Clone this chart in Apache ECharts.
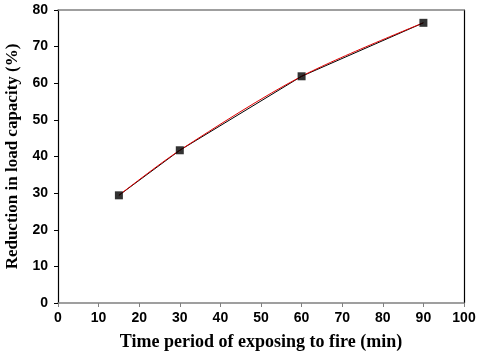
<!DOCTYPE html>
<html>
<head>
<meta charset="utf-8">
<script src="https://cdn.jsdelivr.net/npm/echarts@6/dist/echarts.min.js"></script>
<style>
  html, body { margin: 0; padding: 0; background: #fff; }
  #chart { width: 480px; height: 355px; }
</style>
</head>
<body>
<div id="chart"></div>
<script>
// time of exposure (min) and measured reduction (%)
const timeMin = [15, 30, 60, 90];
const reduction = [29.4, 41.7, 61.9, 76.5];
const xTicks = [0, 100, 10];
const yTicks = [0, 80, 10];

const pts = timeMin.map((t, i) => [t, reduction[i]]);
const labelFont = { color: '#000', fontFamily: 'Liberation Sans, Arial', fontWeight: 'bold', fontSize: 14 };
const titleFont = { color: '#000', fontFamily: 'Liberation Serif, Times New Roman', fontWeight: 'bold', fontSize: 18 };

const chart = echarts.init(document.getElementById('chart'));
chart.setOption({
  animation: false,
  grid: { left: 58, right: 16, top: 10, bottom: 52, containLabel: false, outerBoundsMode: 'none' },
  xAxis: [{
    type: 'value', min: xTicks[0], max: xTicks[1], interval: xTicks[2],
    name: 'Time period of exposing to fire (min)',
    nameLocation: 'middle', nameGap: 30, nameTextStyle: titleFont,
    axisLine: { lineStyle: { color: '#808080', width: 1.5 } },
    axisTick: { show: true, length: 4, lineStyle: { color: '#808080' } },
    axisLabel: Object.assign({ margin: 8 }, labelFont),
    splitLine: { show: false }
  }, {
    type: 'value', position: 'top', min: xTicks[0], max: xTicks[1],
    axisLine: { show: true, onZero: false, lineStyle: { color: '#808080', width: 1.5 } },
    axisTick: { show: false }, axisLabel: { show: false }, splitLine: { show: false }
  }],
  yAxis: [{
    type: 'value', min: yTicks[0], max: yTicks[1], interval: yTicks[2],
    name: 'Reduction in load capacity (%)',
    nameLocation: 'middle', nameGap: 35,
    nameTextStyle: Object.assign({}, titleFont, { fontSize: 17 }),
    axisLine: { show: true, lineStyle: { color: '#000', width: 1.2 } },
    axisTick: { show: true, length: 4, lineStyle: { color: '#000' } },
    axisLabel: Object.assign({ margin: 10 }, labelFont),
    splitLine: { show: false }
  }, {
    type: 'value', position: 'right', min: yTicks[0], max: yTicks[1],
    axisLine: { show: true, onZero: false, lineStyle: { color: '#000', width: 1.2 } },
    axisTick: { show: false }, axisLabel: { show: false }, splitLine: { show: false }
  }],
  series: [
    {
      type: 'line', data: pts, symbol: 'none', z: 1,
      lineStyle: { color: '#000', width: 1 }
    },
    {
      type: 'line', data: pts, symbol: 'none', smooth: 0.3, z: 2,
      lineStyle: { color: '#e00000', width: 1 }
    },
    {
      type: 'scatter', data: pts, symbol: 'rect', symbolSize: 8, z: 3,
      itemStyle: { color: '#000' }
    }
  ]
});
</script>
</body>
</html>
